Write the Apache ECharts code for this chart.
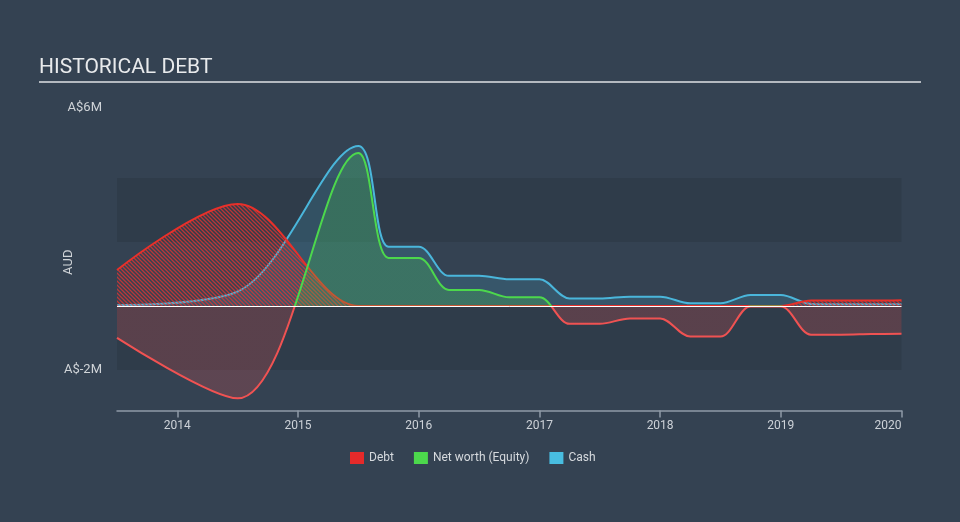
<!DOCTYPE html>
<html><head><meta charset="utf-8">
<script src="https://cdn.jsdelivr.net/npm/echarts@6/dist/echarts.min.js"></script>
<style>html,body{margin:0;padding:0;background:#344252;} #c{width:960px;height:522px;}</style>
</head><body><div id="c"></div>
<script>
// ---- data (A$ millions) ----
const dates  = [2013.5, 2014.5, 2015.5, 2015.75, 2016.0, 2016.25, 2016.5, 2016.75, 2017.0, 2017.25, 2017.5, 2017.75, 2018.0, 2018.25, 2018.5, 2018.75, 2019.0, 2019.25, 2019.5, 2019.75, 2020.0];
const debt   = [1.12, 3.19, 0, 0, 0, 0, 0, 0, 0, 0, 0, 0, 0, 0, 0, 0, 0, 0.17, 0.17, 0.17, 0.18];
const equity = [-1.0, -2.89, 4.78, 1.5, 1.5, 0.5, 0.5, 0.27, 0.27, -0.56, -0.56, -0.39, -0.39, -0.96, -0.96, -0.02, -0.02, -0.9, -0.9, -0.88, -0.87];
const cash   = [0.02, 0.45, 5.0, 1.85, 1.85, 0.94, 0.94, 0.83, 0.83, 0.23, 0.23, 0.29, 0.29, 0.08, 0.08, 0.34, 0.34, 0.06, 0.05, 0.05, 0.05];
const yearTicks = [2014, 2015, 2016, 2017, 2018, 2019, 2020];
const yLabelValues = [-2, 6];
const seriesNames = ['Debt', 'Net worth (Equity)', 'Cash'];
const titleText = 'HISTORICAL DEBT';

function pair(arr) { return dates.map((d, i) => [d, arr[i]]); }

function hatchCanvas() {
  const c = document.createElement('canvas');
  c.width = 4; c.height = 4;
  const g = c.getContext('2d');
  g.strokeStyle = 'rgba(232,52,48,0.75)';
  g.lineWidth = 1.3;
  g.beginPath();
  g.moveTo(-1, -1); g.lineTo(5, 5);
  g.moveTo(3, -1); g.lineTo(5, 1);
  g.moveTo(-1, 3); g.lineTo(1, 5);
  g.stroke();
  return c;
}

const SMOOTH = 0.33;
const chart = echarts.init(document.getElementById('c'), null, {renderer: 'canvas'});
const font = 'Roboto';
chart.setOption({
  backgroundColor: '#344252',
  textStyle: {fontFamily: font},
  animation: false,
  grid: {left: 117, right: 58.5, top: 114, bottom: 111.5, containLabel: false},
  graphic: [
    {type: 'text', left: 39, top: 57, style: {text: titleText, fill: '#e8eaec', font: '21px Roboto'}},
    {type: 'line', shape: {x1: 39, y1: 82, x2: 921, y2: 82}, style: {stroke: '#b4b9c0', lineWidth: 2}}
  ],
  legend: {
    data: seriesNames, left: 345, top: 447, icon: 'rect', itemWidth: 14, itemHeight: 12, itemGap: 20,
    textStyle: {color: '#d6dade', fontSize: 12, fontFamily: font}
  },
  visualMap: {
    show: false, type: 'piecewise', seriesIndex: 2, dimension: 1,
    pieces: [{gte: -20, lt: 0, color: '#f05252'}, {gte: 0, lte: 20, color: '#4cd84c'}]
  },
  xAxis: {
    type: 'value', min: 2013.5, max: 2020,
    axisLine: {show: true, onZero: false, lineStyle: {color: '#8e9aa8', width: 1.5}},
    axisTick: {show: true, customValues: yearTicks, length: 7, lineStyle: {color: '#8e9aa8', width: 1.5}},
    axisLabel: {customValues: yearTicks, color: '#cdd2d8', fontSize: 12, margin: 9, formatter: v => String(v), alignMaxLabel: 'right'},
    splitLine: {show: false}
  },
  yAxis: {
    type: 'value', min: -3.27, max: 6,
    name: 'AUD', nameLocation: 'middle', nameGap: 42, nameMoveOverlap: false,
    nameTextStyle: {color: '#d0d4d8', fontSize: 13},
    axisLine: {show: false}, axisTick: {show: false}, splitLine: {show: false},
    axisLabel: {customValues: yLabelValues, formatter: v => 'A$' + v + 'M', color: '#d0d4d8', fontSize: 13, margin: 15, verticalAlignMaxLabel: 'bottom'}
  },
  series: [
    {
      name: seriesNames[2], type: 'line', data: pair(cash), smooth: SMOOTH, showSymbol: false, z: 2,
      itemStyle: {color: '#48bde0'},
      lineStyle: {color: '#4ab6db', width: 2},
      areaStyle: {color: 'rgba(74,182,219,0.25)'},
      markArea: {
        silent: true,
        itemStyle: {color: 'rgba(0,0,0,0.09)'},
        data: [[{yAxis: 2}, {yAxis: 4}], [{yAxis: -2}, {yAxis: 0}]]
      }
    },
    {
      name: seriesNames[0], type: 'line', data: pair(debt), smooth: SMOOTH, showSymbol: false, z: 3,
      itemStyle: {color: '#e52a2a'},
      lineStyle: {color: '#e8302a', width: 2},
      areaStyle: {color: {image: hatchCanvas(), repeat: 'repeat'}, opacity: 1},
      markLine: {
        silent: true, symbol: 'none', label: {show: false},
        lineStyle: {color: '#ffffff', width: 1, type: 'solid'},
        data: [{yAxis: 0}]
      }
    },
    {
      name: seriesNames[1], type: 'line', data: pair(equity), smooth: SMOOTH, showSymbol: false, z: 4,
      itemStyle: {color: '#4cd84c'},
      lineStyle: {width: 2},
      areaStyle: {opacity: 0.22}
    }
  ]
});
</script>
</body></html>
